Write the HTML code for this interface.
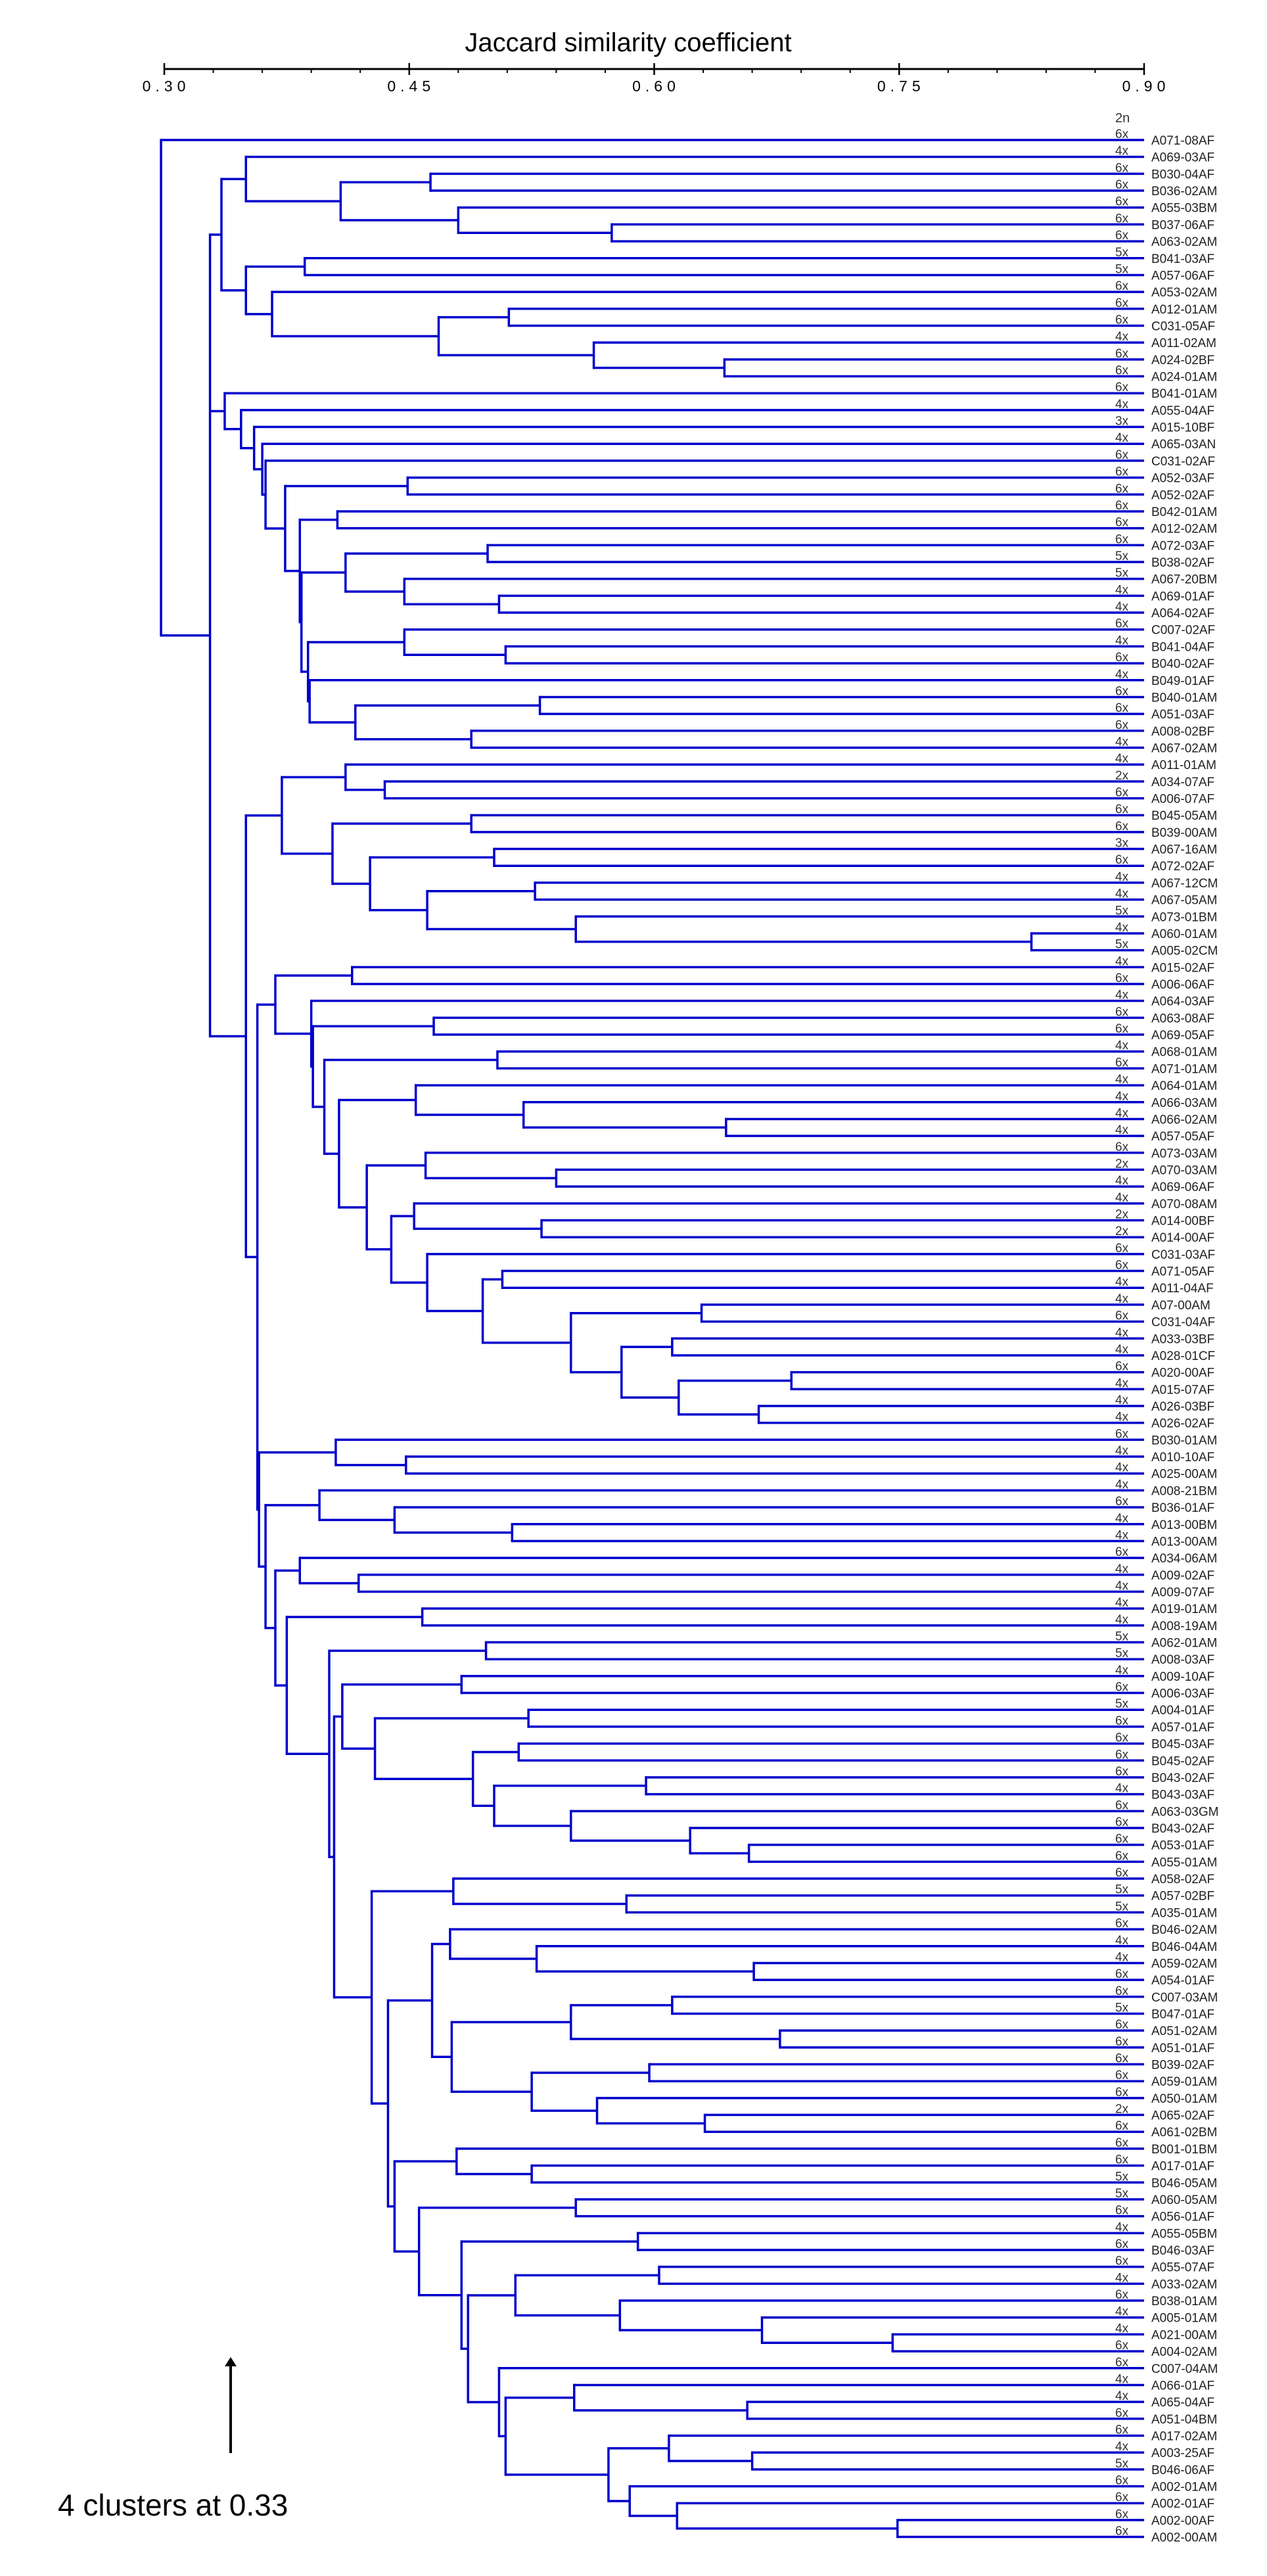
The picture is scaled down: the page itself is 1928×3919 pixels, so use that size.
<!DOCTYPE html>
<html>
<head>
<meta charset="utf-8">
<style>
  html, body { margin: 0; padding: 0; background: #ffffff; }
  body { width: 1928px; height: 3919px; overflow: hidden; }
  svg { display: block; font-family: "Liberation Sans", Arial, sans-serif; }
</style>
</head>
<body>
<svg id="chart" width="1928" height="3919" viewBox="0 0 1928 3919" xmlns="http://www.w3.org/2000/svg">
  <text x="956" y="78" font-size="40" text-anchor="middle" fill="#000">Jaccard similarity coefficient</text>
  <g id="axis"></g>
  <g id="tree"></g>
  <g id="labels"></g>
  <text x="1697" y="186" font-size="20" fill="#333">2n</text>
  <g>
    <line x1="351" y1="3732" x2="351" y2="3592" stroke="#000" stroke-width="4"/>
    <polygon points="351,3586 342,3600 360,3600" fill="#000"/>
  </g>
  <text x="88" y="3827" font-size="46" fill="#000">4 clusters at 0.33</text>
</svg>
<script>
// ---- data ----
const tickValues = [0.30, 0.45, 0.60, 0.75, 0.90];
const tickLabels = ["0.30", "0.45", "0.60", "0.75", "0.90"];
const minorStep = 0.03;
const leafNames = ["A071-08AF","A069-03AF","B030-04AF","B036-02AM","A055-03BM","B037-06AF","A063-02AM","B041-03AF","A057-06AF","A053-02AM","A012-01AM","C031-05AF","A011-02AM","A024-02BF","A024-01AM","B041-01AM","A055-04AF","A015-10BF","A065-03AN","C031-02AF","A052-03AF","A052-02AF","B042-01AM","A012-02AM","A072-03AF","B038-02AF","A067-20BM","A069-01AF","A064-02AF","C007-02AF","B041-04AF","B040-02AF","B049-01AF","B040-01AM","A051-03AF","A008-02BF","A067-02AM","A011-01AM","A034-07AF","A006-07AF","B045-05AM","B039-00AM","A067-16AM","A072-02AF","A067-12CM","A067-05AM","A073-01BM","A060-01AM","A005-02CM","A015-02AF","A006-06AF","A064-03AF","A063-08AF","A069-05AF","A068-01AM","A071-01AM","A064-01AM","A066-03AM","A066-02AM","A057-05AF","A073-03AM","A070-03AM","A069-06AF","A070-08AM","A014-00BF","A014-00AF","C031-03AF","A071-05AF","A011-04AF","A07-00AM","C031-04AF","A033-03BF","A028-01CF","A020-00AF","A015-07AF","A026-03BF","A026-02AF","B030-01AM","A010-10AF","A025-00AM","A008-21BM","B036-01AF","A013-00BM","A013-00AM","A034-06AM","A009-02AF","A009-07AF","A019-01AM","A008-19AM","A062-01AM","A008-03AF","A009-10AF","A006-03AF","A004-01AF","A057-01AF","B045-03AF","B045-02AF","B043-02AF","B043-03AF","A063-03GM","B043-02AF","A053-01AF","A055-01AM","A058-02AF","A057-02BF","A035-01AM","B046-02AM","B046-04AM","A059-02AM","A054-01AF","C007-03AM","B047-01AF","A051-02AM","A051-01AF","B039-02AF","A059-01AM","A050-01AM","A065-02AF","A061-02BM","B001-01BM","A017-01AF","B046-05AM","A060-05AM","A056-01AF","A055-05BM","B046-03AF","A055-07AF","A033-02AM","B038-01AM","A005-01AM","A021-00AM","A004-02AM","C007-04AM","A066-01AF","A065-04AF","A051-04BM","A017-02AM","A003-25AF","B046-06AF","A002-01AM","A002-01AF","A002-00AF","A002-00AM"];
const ploidy = ["6x","4x","6x","6x","6x","6x","6x","5x","5x","6x","6x","6x","4x","6x","6x","6x","4x","3x","4x","6x","6x","6x","6x","6x","6x","5x","5x","4x","4x","6x","4x","6x","4x","6x","6x","6x","4x","4x","2x","6x","6x","6x","3x","6x","4x","4x","5x","4x","5x","4x","6x","4x","6x","6x","4x","6x","4x","4x","4x","4x","6x","2x","4x","4x","2x","2x","6x","6x","4x","4x","6x","4x","4x","6x","4x","4x","4x","6x","4x","4x","4x","6x","4x","4x","6x","4x","4x","4x","4x","5x","5x","4x","6x","5x","6x","6x","6x","6x","4x","6x","6x","6x","6x","6x","5x","5x","6x","4x","4x","6x","6x","5x","6x","6x","6x","6x","6x","2x","6x","6x","6x","5x","5x","6x","4x","6x","6x","4x","6x","4x","4x","6x","6x","4x","4x","6x","6x","4x","5x","6x","6x","6x","6x"];
// merge similarity levels: [level, child, child, ...]; integers are 1-based leaf indices
const subA = [0.335,
  [0.350, 2, [0.408, [0.463,3,4], [0.480, 5, [0.574,6,7]]]],
  [0.350, [0.386,8,9], [0.366, 10, [0.468, [0.511,11,12], [0.563, 13, [0.643,14,15]]]]]];
const subX = [0.388, [0.447,30,[0.509,31,32]], [0.389, 33, [0.417,[0.530,34,35],[0.488,36,37]]]];
const subN8 = [0.384, [0.411,[0.498,25,26],[0.447,27,[0.505,28,29]]], subX];
const subN5 = [0.374, [0.449,21,22], [0.383, [0.406,23,24], subN8]];
const subN = [0.337, 16, [0.347, 17, [0.355, 18, [0.360, 19, [0.362, 20, subN5]]]]];
const subQ = [0.372, [0.411,38,[0.435,39,40]], [0.403,[0.488,41,42],[0.426,[0.502,43,44],[0.461,[0.527,45,46],[0.552,47,[0.831,48,49]]]]]];
const subW = [0.424, [0.460, 61, [0.540,62,63]], [0.439, [0.453, 64, [0.531,65,66]], [0.461, 67, [0.495, [0.507,68,69], [0.549, [0.629,70,71], [0.580, [0.611,72,73], [0.615, [0.684,74,75], [0.664,76,77]]]]]]]];
const subV = [0.454, 57, [0.520, 58, [0.644,59,60]]];
const subT = [0.368, [0.415,50,51], [0.390, 52, [0.391, [0.465,53,54], [0.398, [0.504,55,56], [0.407, subV, subW]]]]];
const subAI = [0.409, [0.482,92,93], [0.429, [0.523,94,95], [0.489, [0.517,96,97], [0.502, [0.595,98,99], [0.549, 100, [0.622, 101, [0.658,102,103]]]]]]];
const subAQ = [0.464, [0.475, 107, [0.528, 108, [0.661,109,110]]], [0.476, [0.549,[0.611,111,112],[0.677,113,114]], [0.525, [0.597,115,116], [0.565, 117, [0.631,118,119]]]]];
const subAV = [0.441, [0.479, 120, [0.525,121,122]], [0.456, [0.552,123,124], [0.482, [0.590,125,126], [0.486, [0.515, [0.603,127,128], [0.579, 129, [0.666, 130, [0.746,131,132]]]], [0.505, 133, [0.509, [0.551, 134, [0.657,135,136]], [0.572, [0.609, 137, [0.660,138,139]], [0.585, 140, [0.614, 141, [0.749,142,143]]]]]]]]]];
const subAJ = [0.427, [0.477, 104, [0.583,105,106]], [0.437, subAQ, subAV]];
const subS2 = [0.358, [0.405, 78, [0.448,79,80]], [0.362, [0.395, 81, [0.441, 82, [0.513,83,84]]], [0.368, [0.383, 85, [0.419,86,87]], [0.375, [0.458,88,89], [0.401, [0.497,90,91], [0.404, subAI, subAJ]]]]]];
const subP = [0.350, subQ, [0.357, subT, subS2]];
const tree = [0.298, 1, [0.328, subA, subN, subP]];

// ---- layout ----
const X0 = 250, X1 = 1741, V0 = 0.30, V1 = 0.90;
function xScale(v) { return X0 + (v - V0) / (V1 - V0) * (X1 - X0); }
const Y0 = 213, DY = 25.68;
function yLeaf(i) { return Y0 + (i - 1) * DY; }
const NS = "http://www.w3.org/2000/svg";
function mk(tag, attrs, parent) {
  const e = document.createElementNS(NS, tag);
  for (const k in attrs) e.setAttribute(k, attrs[k]);
  parent.appendChild(e);
  return e;
}

// axis
const axis = document.getElementById("axis");
const axLine = mk("line", {x1: X0, y1: 105, x2: X1, y2: 105, stroke: "#000", "stroke-width": 3}, axis);


const nMinor = Math.round((V1 - V0) / minorStep);
for (let k = 0; k <= nMinor; k++) {
  const v = V0 + k * minorStep;
  const t = mk("line", {x1: xScale(v), y1: 105, x2: xScale(v), y2: 111, stroke: "#000", "stroke-width": 2}, axis);
  
  
}
tickValues.forEach((v, i) => {
  const t = mk("line", {x1: xScale(v), y1: 96, x2: xScale(v), y2: 114, stroke: "#000", "stroke-width": 2.5}, axis);
  
  
  const lb = mk("text", {x: xScale(v) + 3, y: 139, "font-size": 23, "text-anchor": "middle", "letter-spacing": 7, fill: "#000"}, axis);
  lb.textContent = tickLabels[i];
  
  
});

// tree
const treeG = document.getElementById("tree");
const STROKE = "#0000cc";
function draw(node) {
  if (typeof node === "number") return {x: X1, y: yLeaf(node)};
  const nx = xScale(node[0]);
  const kids = node.slice(1).map(draw);
  kids.forEach(k => {
    const h = mk("line", {x1: nx, y1: k.y, x2: k.x, y2: k.y, stroke: STROKE, "stroke-width": 3.5}, treeG);
    
    
  });
  const yTop = kids[0].y, yBot = kids[kids.length - 1].y;
  const vl = mk("line", {x1: nx, y1: yTop - 1.75, x2: nx, y2: yBot + 1.75, stroke: STROKE, "stroke-width": 3.5}, treeG);
  
  
  return {x: nx, y: (yTop + yBot) / 2};
}
draw(tree);

// labels
const labG = document.getElementById("labels");
leafNames.forEach((name, i) => {
  const y = yLeaf(i + 1);
  const p = mk("text", {x: 1697, y: y - 3, "font-size": 19, fill: "#333"}, labG);
  p.textContent = ploidy[i];
  
  
  const t = mk("text", {x: 1752, y: y + 7, "font-size": 19, fill: "#222"}, labG);
  t.textContent = name;
  
  
});
</script>
</body>
</html>
